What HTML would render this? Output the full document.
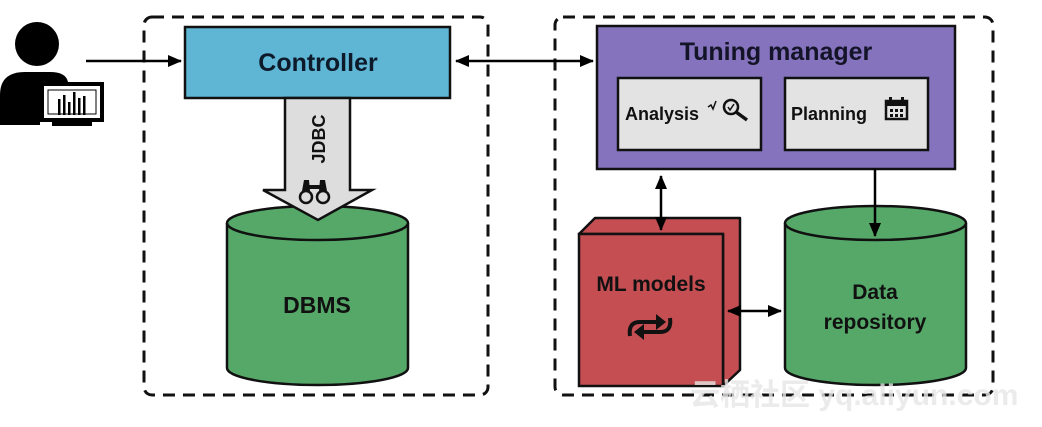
<!DOCTYPE html>
<html><head><style>
body{margin:0;background:#fff;}
svg text{font-family:"Liberation Sans","Noto Sans CJK SC",sans-serif;font-weight:bold;}
</style></head><body>
<svg width="1042" height="422" viewBox="0 0 1042 422" xmlns="http://www.w3.org/2000/svg">
<defs>
<marker id="a" markerWidth="14" markerHeight="14" refX="13" refY="7" orient="auto" markerUnits="userSpaceOnUse"><path d="M0,1 L14,7 L0,13 Z" fill="#000"/></marker>
<marker id="b" markerWidth="14" markerHeight="14" refX="1" refY="7" orient="auto" markerUnits="userSpaceOnUse"><path d="M14,1 L0,7 L14,13 Z" fill="#000"/></marker>
</defs>
<rect x="144" y="17" width="344" height="378" rx="8" fill="none" stroke="#111" stroke-width="3" stroke-dasharray="12,8"/>
<rect x="555" y="17" width="438" height="378" rx="8" fill="none" stroke="#111" stroke-width="3" stroke-dasharray="12,8"/>
<!-- person -->
<circle cx="37" cy="44" r="22" fill="#000"/>
<path d="M0,125 L0,95 Q0,72 25,72 L50,72 Q66,72 68,82 L40,82 L40,125 Z" fill="#000"/>
<rect x="40" y="82" width="64" height="40" fill="#000"/>
<rect x="44" y="86" width="56" height="32" fill="#fff"/>
<rect x="48" y="90" width="48" height="24" fill="#fff" stroke="#000" stroke-width="1"/>
<g fill="#000"><rect x="58" y="99" width="2.5" height="16"/><rect x="63" y="95" width="2.5" height="20"/><rect x="68" y="102" width="2.5" height="13"/><rect x="73" y="92" width="2.5" height="23"/><rect x="78" y="98" width="2.5" height="17"/><rect x="83" y="96" width="2.5" height="19"/></g>
<rect x="52" y="122" width="40" height="4" fill="#000"/>
<line x1="86" y1="61" x2="181" y2="61" stroke="#000" stroke-width="2.5" marker-end="url(#a)"/>
<!-- controller -->
<rect x="185" y="27" width="265" height="71" fill="#5fb5d4" stroke="#111" stroke-width="2.5"/>
<text x="318" y="71" font-size="25" text-anchor="middle" fill="#0d1a2a">Controller</text>
<line x1="456" y1="61" x2="593" y2="61" stroke="#000" stroke-width="2.5" marker-end="url(#a)" marker-start="url(#b)"/>
<!-- DBMS -->
<path d="M227,223 L227,368 A90.5,17 0 0 0 408,368 L408,223" fill="#55a868" stroke="#111" stroke-width="2.5"/>
<ellipse cx="317.5" cy="223" rx="90.5" ry="17" fill="#55a868" stroke="#111" stroke-width="2.5"/>
<text x="317" y="313" font-size="23" text-anchor="middle" fill="#111">DBMS</text>
<!-- JDBC -->
<path d="M285,98 L350,98 L350,190 L372,190 L318,220 L263,190 L285,190 Z" fill="#ddd" stroke="#111" stroke-width="2.5"/>
<text transform="translate(325,139) rotate(-90)" font-size="18" text-anchor="middle" fill="#111">JDBC</text>
<g fill="none" stroke="#111" stroke-width="2.5"><circle cx="306" cy="197" r="6"/><circle cx="323" cy="197" r="6"/></g>
<path d="M302,191 L304,180 L309,180 L310,191 Z M319,191 L320,180 L325,180 L327,191 Z" fill="#111"/>
<rect x="309" y="185" width="11" height="4" fill="#111"/>
<!-- tuning manager -->
<rect x="597" y="26" width="358" height="143" fill="#8573bd" stroke="#111" stroke-width="2.5"/>
<text x="776" y="60" font-size="25" text-anchor="middle" fill="#141428">Tuning manager</text>
<rect x="618" y="78" width="143" height="72" fill="#e3e3e3" stroke="#111" stroke-width="2.5"/>
<text x="625" y="120" font-size="18" fill="#111">Analysis</text>
<path d="M708,107 l3,-2 l2,4 l3,-8" fill="none" stroke="#111" stroke-width="1.5"/>
<circle cx="731" cy="107" r="7" fill="none" stroke="#111" stroke-width="2.5"/>
<path d="M728,107 l2,3 l4,-6" fill="none" stroke="#111" stroke-width="1.5"/>
<line x1="736" y1="112" x2="747" y2="120" stroke="#111" stroke-width="3.5"/>
<rect x="785" y="78" width="143" height="72" fill="#e3e3e3" stroke="#111" stroke-width="2.5"/>
<text x="791" y="120" font-size="18" fill="#111">Planning</text>
<rect x="886" y="101" width="21" height="18" fill="none" stroke="#111" stroke-width="2.5"/>
<rect x="886" y="101" width="21" height="5" fill="#111"/>
<rect x="889" y="97" width="3" height="6" fill="#111"/><rect x="901" y="97" width="3" height="6" fill="#111"/>
<g fill="#111"><rect x="890" y="109" width="3" height="3"/><rect x="895" y="109" width="3" height="3"/><rect x="900" y="109" width="3" height="3"/><rect x="890" y="114" width="3" height="3"/><rect x="895" y="114" width="3" height="3"/><rect x="900" y="114" width="3" height="3"/></g>
<!-- ML cube -->
<path d="M579,234 L595,218 L740,218 L740,370 L723,386 L723,234 Z" fill="#c44e52" stroke="#111" stroke-width="2.5" stroke-linejoin="round"/>
<rect x="579" y="234" width="144" height="152" fill="#c44e52" stroke="#111" stroke-width="2.5"/>
<text x="651" y="291" font-size="21" text-anchor="middle" fill="#111">ML models</text>
<g fill="none" stroke="#111" stroke-width="4"><path d="M630,336 Q628,322 640,322 L660,322"/><path d="M670,318 Q672,332 660,332 L640,332"/></g>
<path d="M656,314 L666,322 L656,330 Z" fill="#111"/><path d="M644,324 L634,332 L644,340 Z" fill="#111"/>
<!-- data repo -->
<path d="M785,223 L785,368 A90.5,17 0 0 0 966,368 L966,223" fill="#55a868" stroke="#111" stroke-width="2.5"/>
<ellipse cx="875.5" cy="223" rx="90.5" ry="17" fill="#55a868" stroke="#111" stroke-width="2.5"/>
<text x="875" y="299" font-size="21" text-anchor="middle" fill="#111">Data</text>
<text x="875" y="329" font-size="21" text-anchor="middle" fill="#111">repository</text>
<!-- arrows on top -->
<line x1="661" y1="176" x2="661" y2="230" stroke="#000" stroke-width="2.5" marker-end="url(#a)" marker-start="url(#b)"/>
<line x1="875" y1="169" x2="875" y2="236" stroke="#000" stroke-width="2.5" marker-end="url(#a)"/>
<line x1="728" y1="311" x2="781" y2="311" stroke="#000" stroke-width="2.5" marker-end="url(#a)" marker-start="url(#b)"/>
<!-- watermark -->
<text x="690" y="405" font-size="30" fill="#e6e6e6" fill-opacity="0.8" font-weight="normal">云栖社区 yq.aliyun.com</text>
</svg>
</body></html>
